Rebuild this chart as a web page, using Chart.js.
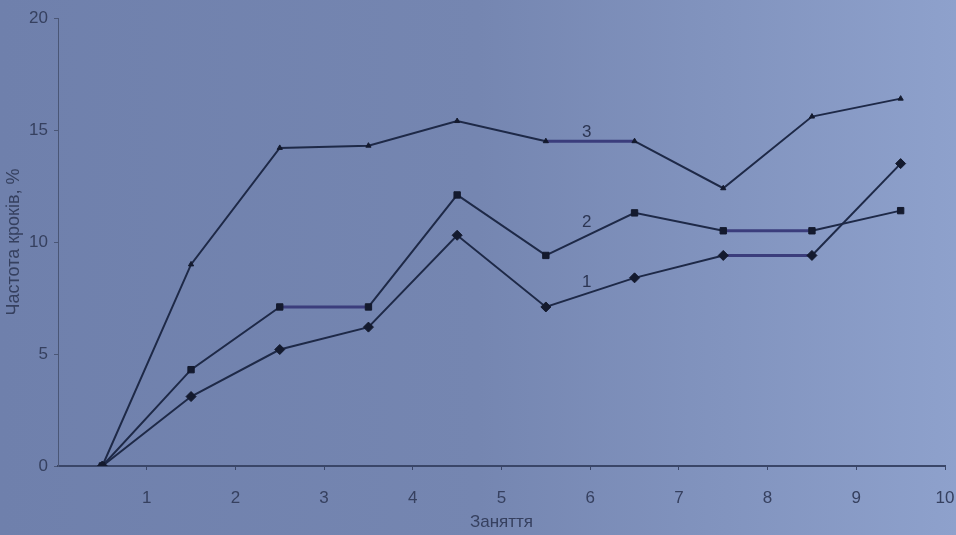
<!DOCTYPE html>
<html>
<head>
<meta charset="utf-8">
<script src="https://cdn.jsdelivr.net/npm/chart.js@4"></script>
<style>
  html, body { margin: 0; padding: 0; background: #7485b0; }
  #wrap { width: 956px; height: 535px; }
</style>
</head>
<body>
<div id="wrap"><canvas id="stepChart"></canvas></div>
<script>
// session positions (points sit between the numbered ticks)
const sessions = [0.5, 1.5, 2.5, 3.5, 4.5, 5.5, 6.5, 7.5, 8.5, 9.5];
const tickLabels = [1, 2, 3, 4, 5, 6, 7, 8, 9, 10];

const series1 = [0, 3.1, 5.2, 6.2, 10.3, 7.1, 8.4, 9.4, 9.4, 13.5];
const series2 = [0, 4.3, 7.1, 7.1, 12.1, 9.4, 11.3, 10.5, 10.5, 11.4];
const series3 = [0, 9.0, 14.2, 14.3, 15.4, 14.5, 14.5, 12.4, 15.6, 16.4];

const seriesNames = ["1", "2", "3"];
const nameX = [5.96, 5.96, 5.96];
const nameY = [8.2, 10.9, 14.9];

const lineColor = '#1e2947';
const flatColor = '#3b3d7c';
const textColor = '#36405f';
const fontFamily = '"Liberation Sans", Arial, sans-serif';

const toPoints = (vals) => vals.map((v, i) => ({ x: sessions[i], y: v }));

const flatSegment = {
    borderColor: ctx => ctx.p0.parsed.y === ctx.p1.parsed.y ? flatColor : lineColor,
    borderWidth: ctx => ctx.p0.parsed.y === ctx.p1.parsed.y ? 3 : 2
};

const backgroundPlugin = {
    id: 'paper',
    beforeDraw: (chart) => {
        const c = chart.ctx;
        const g = c.createLinearGradient(0, 0, chart.width, 0);
        g.addColorStop(0, '#6f80ac');
        g.addColorStop(0.5, '#7586b1');
        g.addColorStop(1, '#8ea1cc');
        c.save();
        c.fillStyle = g;
        c.fillRect(0, 0, chart.width, chart.height);
        c.restore();
    }
};

const namesPlugin = {
    id: 'seriesNames',
    afterDatasetsDraw: (chart) => {
        const c = chart.ctx;
        const xs = chart.scales.x;
        const ys = chart.scales.y;
        c.save();
        c.fillStyle = '#2c3552';
        c.font = '17px ' + fontFamily;
        c.textAlign = 'center';
        c.textBaseline = 'middle';
        for (let i = 0; i < seriesNames.length; i++) {
            c.fillText(seriesNames[i], xs.getPixelForValue(nameX[i]), ys.getPixelForValue(nameY[i]));
        }
        c.restore();
    }
};

const makeSet = (label, vals, style, radius) => ({
    label: label,
    data: toPoints(vals),
    borderColor: lineColor,
    borderWidth: 2,
    pointStyle: style,
    pointRadius: radius,
    pointBackgroundColor: '#141a2e',
    pointBorderColor: '#141a2e',
    pointBorderWidth: 1,
    tension: 0,
    segment: flatSegment
});

new Chart(document.getElementById('stepChart'), {
    type: 'line',
    data: {
        datasets: [
            makeSet('1', series1, 'rectRot', 5),
            makeSet('2', series2, 'rect', 4.5),
            makeSet('3', series3, 'triangle', 3)
        ]
    },
    plugins: [backgroundPlugin, namesPlugin],
    options: {
        responsive: true,
        maintainAspectRatio: false,
        animation: false,
        layout: { padding: { top: 18, right: 11, left: 0, bottom: 0 } },
        plugins: {
            legend: { display: false },
            tooltip: { enabled: false }
        },
        scales: {
            x: {
                type: 'linear',
                min: 0,
                max: 10,
                afterFit: (s) => { s.height = 69; s.paddingRight = 0; s.paddingLeft = 0; },
                afterBuildTicks: (s) => { s.ticks = tickLabels.map(v => ({ value: v })); },
                grid: { display: true, drawOnChartArea: false, tickLength: 4, color: '#3a4668' },
                border: { display: true, color: '#3a4668', width: 2 },
                ticks: {
                    color: textColor,
                    padding: 18,
                    font: { family: fontFamily, size: 17 }
                },
                title: {
                    display: true,
                    text: 'Заняття',
                    color: textColor,
                    padding: { top: 0, bottom: 2 },
                    font: { family: fontFamily, size: 17 }
                }
            },
            y: {
                min: 0,
                max: 20,
                afterFit: (s) => { s.width = 58; s.paddingTop = 0; },
                grid: { display: true, drawOnChartArea: false, tickLength: 4, color: '#4a5676' },
                border: { display: true, color: '#4a5676', width: 1 },
                ticks: {
                    stepSize: 5,
                    color: textColor,
                    padding: 6,
                    font: { family: fontFamily, size: 17 }
                },
                title: {
                    display: true,
                    text: 'Частота кроків, %',
                    color: textColor,
                    padding: { top: 3, bottom: 0 },
                    font: { family: fontFamily, size: 18 }
                }
            }
        }
    }
});
</script>
</body>
</html>
